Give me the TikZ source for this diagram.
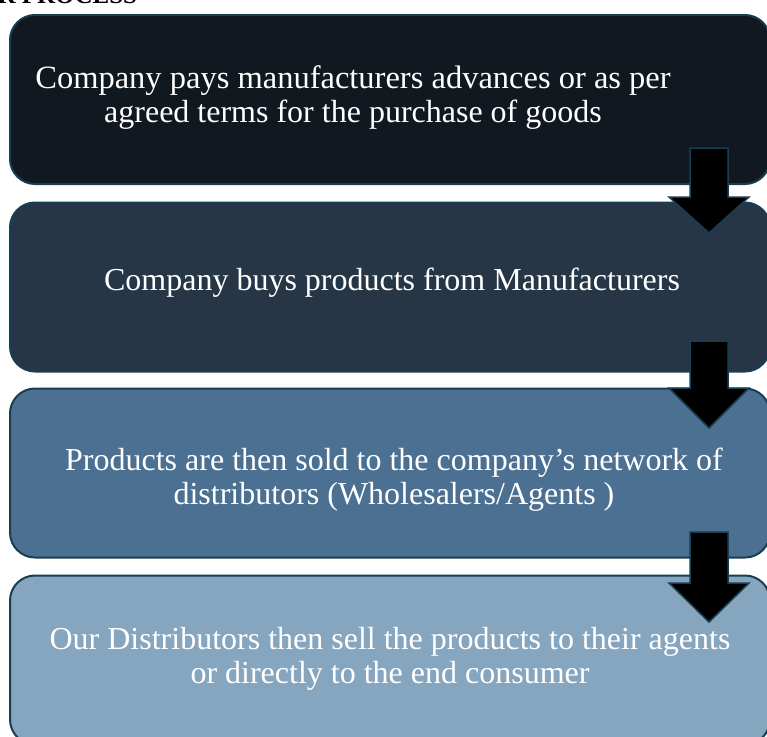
\documentclass[tikz,border=0pt]{standalone}
\usepackage{fontspec}
\setmainfont{Liberation Serif}
\definecolor{boxA}{RGB}{17,24,32}
\definecolor{boxB}{RGB}{38,54,70}
\definecolor{boxC}{RGB}{75,112,145}
\definecolor{boxD}{RGB}{134,165,191}
\definecolor{edge}{RGB}{24,62,82}
\tikzset{
	flowbox/.style={draw=edge, line width=2pt, rounded corners=25pt, minimum width=760pt, minimum height=169pt, inner sep=0pt},
	flowtext/.style={text=white, align=center, font=\fontsize{32}{34}\selectfont, inner sep=0pt},
	blockarrow/.style={fill=black, draw=edge, line width=1.5pt, line join=miter}
}
% x centre, shaft top, head base, tip
\newcommand{\flowarrow}[4]{%
	\draw[blockarrow] (#1-19,#2) -- (#1+19,#2) -- (#1+19,#3) -- (#1+40,#3) -- (#1,#4) -- (#1-40,#3) -- (#1-19,#3) -- cycle;}
\begin{document}
\begin{tikzpicture}[x=1pt, y=-1pt]
	\useasboundingbox (0,0) rectangle (767,736);
	\node[anchor=base west, font=\bfseries\fontsize{25}{25}\selectfont] (title) at (-6,4) {R PROCESS};
	% the four steps
	\node[flowbox, fill=boxA] (pay) at (390,99.5) {};
	\node[flowbox, fill=boxB] (buy) at (390,287) {};
	\node[flowbox, fill=boxC] (sell) at (390,473) {};
	\node[flowbox, fill=boxD] (dist) at (390,660) {};
	\node[flowtext] (paytext) at (353,98) {\fontsize{32.5}{33}\selectfont Company pays manufacturers advances or as per\\agreed terms for the purchase of goods};
	\node[flowtext] (buytext) at (392,283) {Company buys products from Manufacturers};
	\node[flowtext] (selltext) at (394,480) {Products are then sold to the company’s network of\\distributors (Wholesalers/Agents )};
	\node[flowtext] (disttext) at (390,659) {Our Distributors then sell the products to their agents\\or directly to the end consumer};
	% arrows between the steps
	\flowarrow{709}{148}{197}{233}
	\flowarrow{709}{341}{388}{428}
	\flowarrow{709}{532}{583}{622}
\end{tikzpicture}
\end{document}
